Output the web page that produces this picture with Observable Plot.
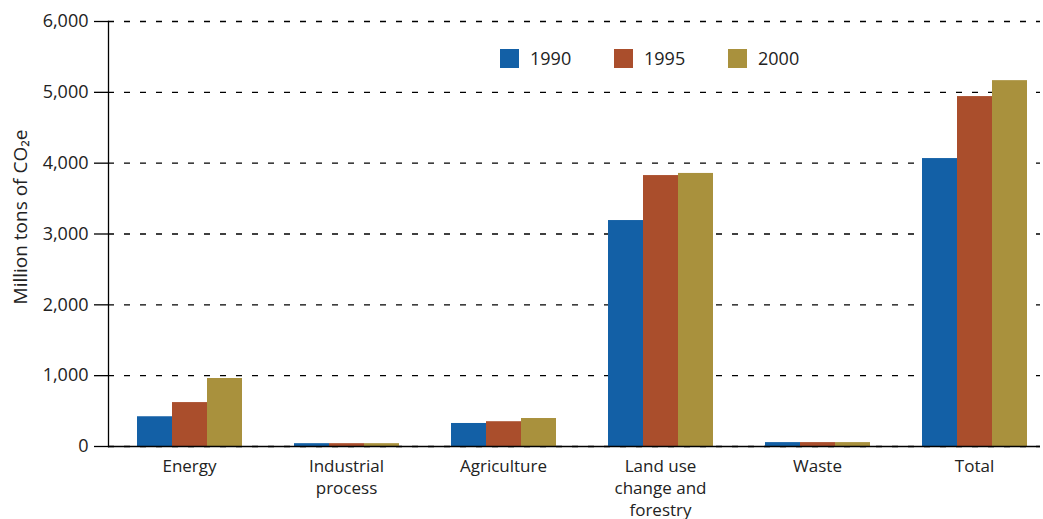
<!DOCTYPE html>
<html>
<head>
<meta charset="utf-8">
<script src="https://cdn.jsdelivr.net/npm/d3@7"></script>
<script src="https://cdn.jsdelivr.net/npm/@observablehq/plot@0.6"></script>
<style>
  html, body { margin: 0; padding: 0; background: #fff; }
  #wrap { position: relative; width: 1043px; height: 519px; font-family: "Open Sans", "Noto Sans", sans-serif; }
  #wrap svg { position: absolute; left: 0; top: 0; }
  #legend { position: absolute; left: 500px; top: 46px; display: flex; font-size: 18px; color: #222; }
  .item { display: flex; align-items: center; width: 114px; }
  .sw { width: 19px; height: 19px; margin-right: 11px; }
</style>
</head>
<body>
<div id="wrap"><div id="legend"></div></div>
<script>
const categories = ["Energy", "Industrial\nprocess", "Agriculture", "Land use\nchange and\nforestry", "Waste", "Total"];
const years = ["1990", "1995", "2000"];
const v1990 = [420, 40, 325, 3190, 55, 4065];
const v1995 = [620, 40, 350, 3825, 55, 4940];
const v2000 = [960, 40, 395, 3855, 55, 5165];
const colors = ["#1360a6", "#aa4e2c", "#a9913d"];
const yTicks = [0, 1000, 2000, 3000, 4000, 5000, 6000];
const yLabel = "Million tons of CO₂e";

const series = [v1990, v1995, v2000];
const data = [];
categories.forEach((c, i) => years.forEach((y, j) => data.push({cat: c, year: y, value: series[j][i]})));

const base = {
  width: 1043,
  height: 519,
  marginLeft: 108,
  marginRight: 3,
  marginTop: 21,
  marginBottom: 73,
  style: {fontFamily: "'Open Sans', 'Noto Sans', sans-serif", fontSize: "17px", color: "#222", background: "transparent"},
  y: {domain: [0, 6000], axis: null}
};
const catScale = {domain: categories, range: [110, 1053], paddingInner: 0.32, paddingOuter: 0.16};

// layer 1: dashed grid
const grid = Plot.plot({
  ...base,
  x: {...catScale, axis: null},
  marks: [
    Plot.gridY(yTicks, {stroke: "#000", strokeOpacity: 1, strokeWidth: 1.3, strokeDasharray: "6,10"})
  ]
});

// layer 2: grouped bars
const bars = Plot.plot({
  ...base,
  fx: {...catScale, axis: null},
  x: {domain: years, padding: 0, axis: null},
  color: {domain: years, range: colors},
  marks: [
    Plot.barY(data, {fx: "cat", x: "year", y: "value", fill: "year"})
  ]
});

// layer 3: axes
const axes = Plot.plot({
  ...base,
  x: {...catScale},
  marks: [
    Plot.axisY(yTicks, {tickSize: 14, tickPadding: 6, tickFormat: d3.format(","), stroke: "#000", strokeWidth: 1.3,
      fontSize: 18, label: null}),
    Plot.text([yLabel], {frameAnchor: "left", textAnchor: "middle", rotate: -90, dx: -88, dy: -17, fontSize: 19, fill: "#222"}),
    Plot.frame({anchor: "left", stroke: "#000", strokeWidth: 1.3}),
    Plot.ruleY([0], {stroke: "#000", strokeWidth: 1.5}),
    Plot.axisX({anchor: "bottom", tickSize: 0, tickPadding: 10, lineHeight: 1.3, fontSize: 17, label: null})
  ]
});

const wrap = document.getElementById("wrap");
wrap.prepend(grid, bars, axes);

const legend = document.getElementById("legend");
years.forEach((y, i) => {
  const it = document.createElement("div");
  it.className = "item";
  const sw = document.createElement("div");
  sw.className = "sw";
  sw.style.background = colors[i];
  const t = document.createElement("span");
  t.textContent = y;
  it.append(sw, t);
  legend.append(it);
});
</script>
</body>
</html>
